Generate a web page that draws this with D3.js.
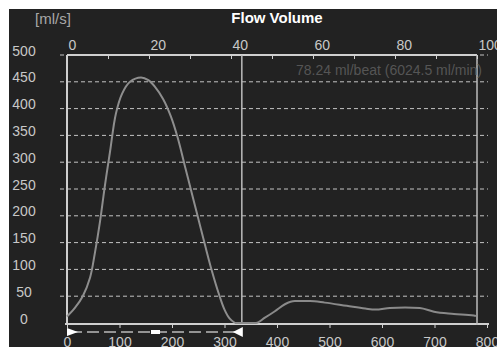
<!DOCTYPE html>
<html>
<head>
<meta charset="utf-8">
<script src="https://cdn.jsdelivr.net/npm/d3@7"></script>
<style>
  body { margin: 0; background: #fff; }
  svg { display: block; font-family: "Liberation Sans", Arial, sans-serif; }
</style>
</head>
<body>
<div id="chart"></div>
<script>
// systolic flow, time in ms vs flow in ml/s
const systoleMs = [0, 15, 30, 44, 53, 63, 72, 82, 93, 105, 120, 141, 155, 168, 183, 198, 211, 224, 237, 250, 263, 276, 289, 300, 310, 320]
const systoleFlow = [12, 28, 50, 85, 130, 190, 255, 320, 390, 428, 450, 458, 453, 440, 418, 385, 345, 295, 245, 195, 145, 97, 55, 25, 8, 0]

// diastolic flow after the divider
const diastoleMs = [320, 340, 360, 377, 396, 415, 434, 463, 491, 533, 568, 587, 615, 644, 672, 699, 737, 775, 779]
const diastoleFlow = [0, 0, 0, 10, 22, 35, 41, 41, 38, 32, 27, 25, 28, 29, 28, 21, 17, 14, 13]

const flowTicks = d3.range(0, 501, 50)
const pctTicks = d3.range(0, 101, 10)
const msTicks = d3.range(0, 801, 100)

const dividerMs = 333
const strokeLabel = '78.24 ml/beat (6024.5 ml/min)'

const width = 497
const height = 347

const svg = d3.select('#chart')
  .append('svg')
  .attr('width', width)
  .attr('height', height)

svg.append('rect')
  .attr('x', 9)
  .attr('y', 9)
  .attr('width', width - 9)
  .attr('height', height - 9)
  .attr('fill', '#222')

const y = d3.scaleLinear().domain([0, 500]).range([323, 55])
const xPct = d3.scaleLinear().domain([0, 100]).range([67, 477])
const xMs = d3.scaleLinear().domain([0, 800]).range([67, 487])

// dashed grid
svg.append('g')
  .selectAll('line')
  .data(flowTicks.filter(d => d > 0))
  .enter()
  .append('line')
  .attr('x1', 60)
  .attr('x2', 488)
  .attr('y1', d => y(d))
  .attr('y2', d => y(d))
  .attr('stroke', '#c4c4c4')
  .attr('stroke-width', 1)
  .attr('stroke-dasharray', '4,3')

// frame lines
const lineColor = '#cfcfcf'
svg.append('line')
  .attr('x1', 67).attr('x2', 477)
  .attr('y1', y(500)).attr('y2', y(500))
  .attr('stroke', lineColor).attr('stroke-width', 2)
svg.append('line')
  .attr('x1', 65).attr('x2', 489)
  .attr('y1', 324).attr('y2', 324)
  .attr('stroke', lineColor).attr('stroke-width', 2)
svg.append('line')
  .attr('x1', 67).attr('x2', 67)
  .attr('y1', 55).attr('y2', 325)
  .attr('stroke', lineColor).attr('stroke-width', 2)
svg.append('line')
  .attr('x1', xMs(dividerMs)).attr('x2', xMs(dividerMs))
  .attr('y1', 55).attr('y2', 324)
  .attr('stroke', '#bdbdbd').attr('stroke-width', 1.5)
svg.append('line')
  .attr('x1', xPct(100)).attr('x2', xPct(100))
  .attr('y1', 55).attr('y2', 325)
  .attr('stroke', '#bdbdbd').attr('stroke-width', 1.5)

// top axis
const topAxis = svg.append('g')
  .attr('transform', `translate(0,${y(500)})`)
  .call(d3.axisBottom(xPct)
    .tickValues(pctTicks)
    .tickSize(4)
    .tickFormat(d => d % 20 === 0 ? d : ''))
topAxis.select('.domain').remove()
topAxis.selectAll('line').attr('stroke', lineColor)
topAxis.selectAll('text')
  .attr('y', -5)
  .attr('dy', 0)
  .attr('x', 1)
  .attr('text-anchor', 'start')
  .attr('fill', '#c8c8c8')
  .attr('font-size', 14)
  .attr('font-family', null)

// bottom axis
const bottomAxis = svg.append('g')
  .attr('transform', 'translate(0,324)')
  .call(d3.axisBottom(xMs).tickValues(msTicks).tickSize(4))
bottomAxis.select('.domain').remove()
bottomAxis.selectAll('line').attr('stroke', lineColor)
bottomAxis.selectAll('text')
  .attr('y', 23)
  .attr('dy', 0)
  .attr('fill', '#c8c8c8')
  .attr('font-size', 14)
  .attr('font-family', null)

// left axis
const leftAxis = svg.append('g')
  .attr('transform', 'translate(24,0)')
  .call(d3.axisLeft(y).tickValues(flowTicks).tickSize(0))
leftAxis.select('.domain').remove()
leftAxis.selectAll('text')
  .attr('x', 0)
  .attr('dy', 0)
  .attr('text-anchor', 'middle')
  .attr('fill', '#c8c8c8')
  .attr('font-size', 14)
  .attr('font-family', null)

// flow curves
const flowLine = d3.line()
  .x(d => xMs(d[0]))
  .y(d => y(d[1]))
  .curve(d3.curveCatmullRom.alpha(0.5))

svg.append('path')
  .datum(d3.zip(systoleMs, systoleFlow))
  .attr('d', flowLine)
  .attr('fill', 'none')
  .attr('stroke', '#8e8e8e')
  .attr('stroke-width', 2)

svg.append('path')
  .datum(d3.zip(diastoleMs, diastoleFlow))
  .attr('d', flowLine.curve(d3.curveMonotoneX))
  .attr('fill', 'none')
  .attr('stroke', '#8a8a8a')
  .attr('stroke-width', 2)

// marker bar under the systole
const barY = 332
svg.append('line')
  .attr('x1', 70).attr('x2', xMs(dividerMs))
  .attr('y1', barY).attr('y2', barY)
  .attr('stroke', '#bbb').attr('stroke-width', 1.5)
  .attr('stroke-dasharray', '12,5')
svg.append('path')
  .attr('d', `M67,${barY - 4}L78,${barY}L67,${barY + 4}Z`)
  .attr('fill', '#fff')
svg.append('path')
  .attr('d', `M${xMs(dividerMs) + 1},${barY - 5}L${xMs(dividerMs) - 9},${barY}L${xMs(dividerMs) + 1},${barY + 5}Z`)
  .attr('fill', '#fff')
svg.append('rect')
  .attr('x', xMs(160)).attr('y', barY - 2)
  .attr('width', 9).attr('height', 4)
  .attr('fill', '#fff')

// texts
svg.append('text')
  .attr('x', 277).attr('y', 23)
  .attr('text-anchor', 'middle')
  .attr('font-size', 15)
  .attr('font-weight', 'bold')
  .attr('fill', '#fff')
  .text('Flow Volume')

svg.append('text')
  .attr('x', 53).attr('y', 24)
  .attr('text-anchor', 'middle')
  .attr('font-size', 15)
  .attr('fill', '#a8a8a8')
  .text('[ml/s]')

svg.append('text')
  .attr('x', 482).attr('y', 75)
  .attr('text-anchor', 'end')
  .attr('font-size', 14)
  .attr('fill', '#555')
  .text(strokeLabel)
</script>
</body>
</html>
